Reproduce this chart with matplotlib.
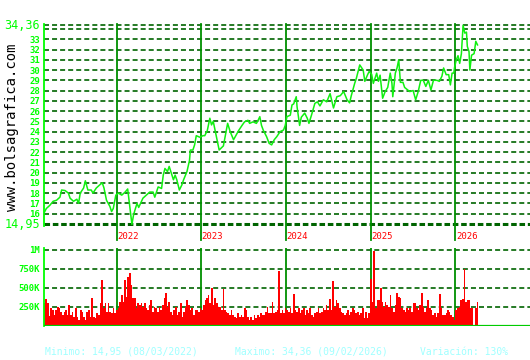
import numpy as np
import matplotlib
matplotlib.use("Agg")
import matplotlib.pyplot as plt
import matplotlib.transforms as mtransforms

plt.rcParams["lines.scale_dashes"] = False
MONO = "DejaVu Sans Mono"

# price series (decimal years, closing value)
dates = [
    2021.15, 2021.17, 2021.21, 2021.25, 2021.29, 2021.33, 2021.35, 2021.39, 2021.43, 2021.45,
    2021.49, 2021.53, 2021.55, 2021.57, 2021.61, 2021.63, 2021.66, 2021.70, 2021.72, 2021.76,
    2021.80, 2021.83, 2021.85, 2021.88, 2021.92, 2021.94, 2021.96, 2021.99, 2022.02, 2022.06,
    2022.10, 2022.13, 2022.14, 2022.16, 2022.18, 2022.20, 2022.24, 2022.26, 2022.31, 2022.35,
    2022.39, 2022.43, 2022.45, 2022.49, 2022.53, 2022.55, 2022.57, 2022.60, 2022.62, 2022.65,
    2022.67, 2022.69, 2022.71, 2022.74, 2022.77, 2022.79, 2022.83, 2022.86, 2022.87, 2022.90,
    2022.92, 2022.94, 2022.98, 2023.02, 2023.04, 2023.07, 2023.10, 2023.12, 2023.14, 2023.17,
    2023.21, 2023.26, 2023.28, 2023.31, 2023.34, 2023.38, 2023.42, 2023.44, 2023.48, 2023.51,
    2023.55, 2023.57, 2023.61, 2023.65, 2023.67, 2023.69, 2023.71, 2023.73, 2023.77, 2023.80,
    2023.83, 2023.86, 2023.89, 2023.93, 2023.97, 2023.99, 2024.01, 2024.05, 2024.07, 2024.09,
    2024.12, 2024.13, 2024.16, 2024.18, 2024.22, 2024.25, 2024.27, 2024.30, 2024.34, 2024.37,
    2024.40, 2024.44, 2024.48, 2024.52, 2024.56, 2024.60, 2024.64, 2024.68, 2024.72, 2024.75,
    2024.77, 2024.81, 2024.83, 2024.87, 2024.91, 2024.93, 2024.96, 2024.98, 2025.01, 2025.03,
    2025.05, 2025.07, 2025.09, 2025.11, 2025.14, 2025.17, 2025.20, 2025.23, 2025.25, 2025.26,
    2025.29, 2025.31, 2025.33, 2025.35, 2025.38, 2025.40, 2025.43, 2025.46, 2025.50, 2025.53,
    2025.56, 2025.59, 2025.62, 2025.65, 2025.68, 2025.71, 2025.74, 2025.78, 2025.81, 2025.84,
    2025.86, 2025.89, 2025.92, 2025.94, 2025.96, 2025.98, 2025.99, 2026.01, 2026.03, 2026.05,
    2026.07, 2026.09, 2026.11, 2026.13, 2026.14, 2026.16, 2026.17, 2026.19, 2026.22, 2026.24,
    2026.26,
]
prices = [
    16.18, 16.5, 16.8, 17.2, 17.3, 17.6, 18.3, 18.25, 18.0, 17.5,
    17.2, 17.4, 17.0, 18.0, 18.5, 19.2, 18.3, 18.3, 18.0, 18.5,
    18.8, 19.0, 18.5, 17.3, 16.7, 16.2, 16.5, 17.8, 18.0, 17.8,
    18.1, 18.4, 17.7, 16.35, 14.95, 15.9, 17.0, 16.6, 17.5, 17.8,
    18.1, 18.1, 17.6, 18.6, 18.45, 19.75, 20.4, 20.1, 20.6, 19.8,
    19.3, 19.75, 19.3, 18.3, 18.8, 19.3, 20.1, 21.2, 22.2, 22.2,
    22.7, 23.6, 23.45, 23.6, 23.6, 24.1, 25.3, 24.65, 25.0, 23.8,
    22.2, 22.6, 23.5, 24.8, 24.0, 23.2, 23.8, 24.1, 24.6, 24.95,
    25.1, 24.8, 24.95, 24.8, 25.1, 25.45, 24.6, 24.15, 23.5, 22.85,
    22.7, 23.2, 23.5, 24.0, 24.15, 24.6, 25.45, 25.6, 26.6, 26.7,
    27.4, 26.4, 24.6, 25.4, 25.8, 25.3, 24.8, 25.6, 26.75, 26.9,
    26.5, 27.1, 26.9, 27.7, 26.3, 27.4, 27.5, 27.9, 27.1, 26.8,
    27.5, 28.7, 29.2, 30.5, 30.0, 28.9, 29.5, 29.85, 29.6, 28.7,
    29.2, 29.7, 28.9, 29.5, 27.25, 27.9, 28.3, 29.7, 28.7, 27.4,
    29.7, 30.2, 31.0, 28.8, 28.8, 28.3, 28.1, 27.9, 28.0, 27.1,
    27.9, 29.0, 29.0, 28.4, 29.0, 28.05, 29.0, 29.0, 28.9, 29.4,
    30.2, 29.55, 29.55, 28.55, 29.7, 29.7, 30.3, 31.0, 31.4, 30.65,
    31.6, 34.36, 33.6, 33.7, 32.3, 31.8, 30.0, 31.45, 31.6, 32.8,
    32.45,
]

# volume in thousands, one bar per session block from first to last date
volume_k = [
    299, 352, 299, 132, 233, 211, 145, 211, 255, 233, 189, 145, 189, 211, 145, 277, 145, 189,
    123, 233, 123, 79, 211, 189, 123, 79, 189, 211, 123, 365, 123, 101, 167, 145, 299, 607,
    233, 299, 189, 299, 189, 167, 233, 167, 211, 233, 321, 409, 321, 607, 387, 651, 695, 541,
    365, 365, 233, 299, 277, 299, 255, 299, 233, 211, 277, 343, 189, 255, 233, 189, 255, 211,
    277, 365, 431, 255, 321, 189, 145, 211, 255, 145, 189, 299,
    123, 189, 255, 343, 277, 211, 233, 145, 211, 211, 189, 233, 211, 277, 343, 365, 409, 299,
    497, 277, 365, 299, 255, 255, 211, 488, 211, 189, 167, 145, 211, 145, 123, 101, 167, 123,
    145, 123, 233, 211, 123, 79, 123, 79, 145, 101, 145, 123, 167, 145, 145, 189, 255, 167,
    167, 321, 167, 189, 211, 717, 167, 211, 167, 233, 211, 189, 233, 167, 422, 211, 189, 233,
    167, 211, 233, 145, 211, 167, 233, 145, 123, 167, 189, 233, 167, 189, 233, 211, 277, 211,
    356, 211, 594, 255, 343, 299, 233, 189, 167, 145, 167, 211, 145, 189, 233, 211, 167,
    189, 145, 167, 233, 101, 189, 101, 167, 616, 321, 990, 233, 343, 343, 497, 321, 255, 321,
    277, 255, 409, 233, 189, 277, 431, 387, 365, 233, 211, 189, 233, 211, 233, 189, 299, 299,
    233, 211, 277, 431, 255, 189, 233, 343, 233, 211, 145, 167, 123, 167, 422, 233, 145, 145,
    167, 211, 189, 145, 123, 79, 211, 233, 255, 343, 352, 748, 321, 343, 343, 233, 233, 13,
    233, 321,
]

years = [2022, 2023, 2024, 2025, 2026]
price_ticks = list(range(16, 34))
vol_ticks = [250e3, 500e3, 750e3, 1e6]
vol_labels = ["250K", "500K", "750K", "1M"]
min_txt = "Minimo: 14,95 (08/03/2022)"
max_txt = "Maximo: 34,36 (09/02/2026)"
var_txt = "Variación: 130%"

GRID = "#006400"
VLINE = "#009000"
BRIGHT = "#00ff00"
XLIM = (2021.142, 2026.880)

W, H = 530, 360
fig = plt.figure(figsize=(W / 100, H / 100), dpi=100)
fig.patch.set_facecolor("white")

def px_axes(x0, y_top, x1, y_bot):
    return fig.add_axes([x0 / W, 1 - y_bot / H, (x1 - x0) / W, (y_bot - y_top) / H])

ax = px_axes(44, 24, 530, 226)
av = px_axes(44, 248, 530, 326)

for a in (ax, av):
    a.set_xlim(*XLIM)
    a.set_xticks([])
    for s in ("top", "right", "bottom"):
        a.spines[s].set_visible(False)
    a.spines["left"].set_color(BRIGHT)
    a.spines["left"].set_linewidth(1.3)
    a.tick_params(axis="y", length=0, pad=3, labelcolor=BRIGHT, labelsize=6.5)
    a.set_facecolor("white")

# price panel
ax.set_ylim(14.79, 34.49)
for v in price_ticks + [34, 34.36]:
    ax.axhline(v, color=GRID, lw=1.2, dashes=(3.6, 2.2), zorder=1)
ax.axhline(14.95, color=GRID, lw=2.2, dashes=(4.0, 2.0), zorder=1)
ax.set_yticks(price_ticks)
ax.set_yticklabels([str(t) for t in price_ticks], family=MONO, fontweight="bold")

tr = mtransforms.blended_transform_factory(ax.transAxes, ax.transData)
for v, lab in ((34.36, "34,36"), (14.95, "14,95")):
    ax.text(-0.008, v, lab, transform=tr, ha="right", va="center",
            color=BRIGHT, fontsize=8.5, family=MONO)

trx = mtransforms.blended_transform_factory(ax.transData, ax.transAxes)
for yr in years:
    ax.axvline(yr, ymin=-0.07, ymax=1, color=VLINE, lw=1.3, clip_on=False, zorder=2)
    ax.text(yr + 0.005, -0.05, str(yr), transform=trx, ha="left", va="center",
            color="#ff0000", fontsize=6.5, family=MONO)

ax.plot(dates, prices, color="#10f010", lw=1.1, zorder=3)

# volume panel
av.set_ylim(0, 1.026e6)
for v in vol_ticks:
    av.axhline(v, color=GRID, lw=1.2, dashes=(3.6, 2.2), zorder=1)
for yr in years:
    av.axvline(yr, color=VLINE, lw=1.3, zorder=1)
vol_dates = np.linspace(dates[0], dates[-1], len(volume_k))
step = vol_dates[1] - vol_dates[0]
av.bar(vol_dates, np.array(volume_k) * 1e3, width=step, color="#ff0000",
       linewidth=0, zorder=2)
av.axhline(0, color="#00cc00", lw=1.6, zorder=3)
av.set_yticks(vol_ticks)
av.set_yticklabels(vol_labels, family=MONO, fontweight="bold")

# texts
fig.text(12 / W, 1 - 127 / H, "www.bolsagrafica.com", rotation=90, ha="center",
         va="center", fontsize=10, family=MONO, color="black")
for x0, txt in ((45, min_txt), (235, max_txt), (420, var_txt)):
    fig.text(x0 / W, 1 - 352 / H, txt, ha="left", va="center", fontsize=7,
             family=MONO, color="#a0ffff")

fig.savefig("out.png", dpi=100)
